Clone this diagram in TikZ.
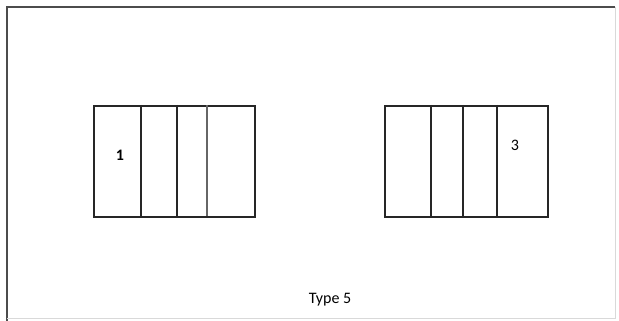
\documentclass[tikz,border=0pt]{standalone}
\usepackage{fontspec}
\setmainfont{Carlito}
\begin{document}
\begin{tikzpicture}[x=1pt,y=-1pt,
  frameline/.style={line width=2.5pt,draw=black!70},
  boxline/.style={line width=1.6pt,draw=black!85},
  lbl/.style={font=\fontsize{16}{18}\selectfont,text=black,inner sep=0pt}]
\useasboundingbox (0,0) rectangle (619,321);
\fill[white] (0,0) rectangle (619,321);
\coordinate (tl) at (7,7);
\coordinate (tr) at (615,7);
\coordinate (bl) at (7,321);
\coordinate (br) at (615,318);
\draw[frameline] (tr) -- (tl) -- (bl);
\draw[line width=0.8pt,draw=black!15] (bl |- br) -- (br) -- (tr);
% left unit
\node[boxline,draw,minimum width=161pt,minimum height=111pt,inner sep=0pt,anchor=north west] (L) at (93,105) {};
\draw[boxline] (141,105) -- (141,216);
\draw[boxline] (177,105) -- (177,216);
\draw[boxline,draw=black!60,line width=2.4pt] (207,105) -- (207,216);
\node[lbl] (l1) at (120,155) {\textbf{1}};
% right unit
\node[boxline,draw,minimum width=163pt,minimum height=111pt,inner sep=0pt,anchor=north west] (R) at (384,105) {};
\draw[boxline] (431,105) -- (431,216);
\draw[boxline] (463,105) -- (463,216);
\draw[boxline] (497,105) -- (497,216);
\node[lbl] (r3) at (515,145) {3};
\node[lbl] (cap) at (330,300) {Type 5};
\end{tikzpicture}
\end{document}
